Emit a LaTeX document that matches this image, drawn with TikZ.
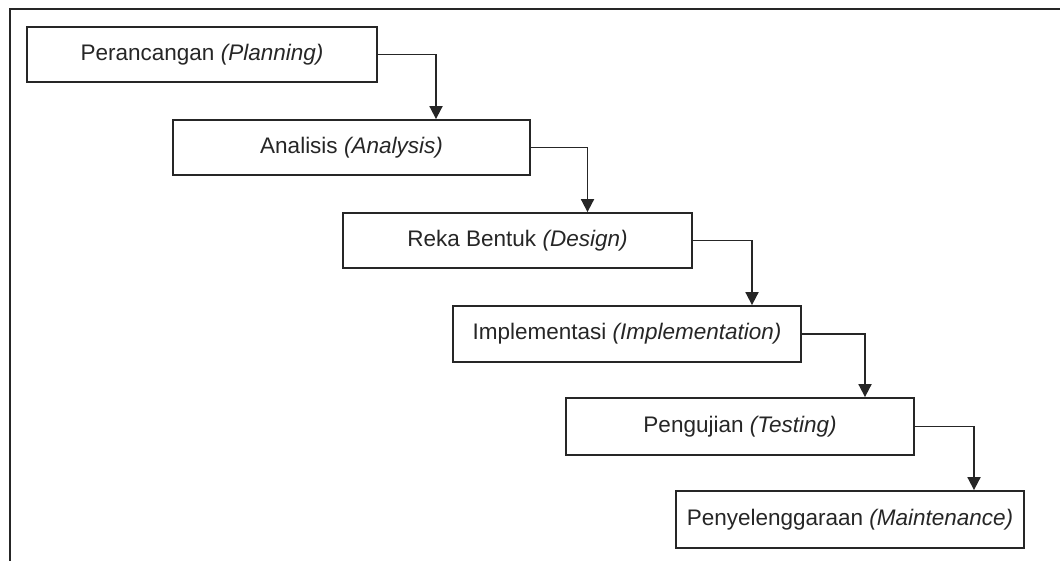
\documentclass[tikz,border=0pt]{standalone}
\usepackage{fontspec}
\setmainfont{Liberation Sans}
\usetikzlibrary{arrows.meta}
\begin{document}
\begin{tikzpicture}[x=1pt,y=-1pt,
  stage/.style={draw=black!85,line width=1.8pt,fill=white,inner sep=0pt,
    font=\fontsize{22.5}{25}\selectfont,text=black!85},
  flow/.style={draw=black!85,line width=1.8pt,-{Triangle[length=13pt,width=13pt]}},
  frame/.style={draw=black!85,line width=2pt}]
\useasboundingbox (0,0) rectangle (1060,561);
\coordinate (ftop) at (1060,9);
\coordinate (fcorner) at (10,9);
\coordinate (fbot) at (10,561);
\draw[frame] (ftop) -- (fcorner) -- (fbot);
\node[stage,minimum width=350pt,minimum height=55pt] (b1) at (202,54.5) {Perancangan \textit{(Planning)}};
\node[stage,minimum width=357pt,minimum height=55pt] (b2) at (351.5,147.5) {Analisis \textit{(Analysis)}};
\node[stage,minimum width=349pt,minimum height=55pt] (b3) at (517.5,240.5) {Reka Bentuk \textit{(Design)}};
\node[stage,minimum width=348pt,minimum height=56pt] (b4) at (627,334) {Implementasi \textit{(Implementation)}};
\node[stage,minimum width=348pt,minimum height=57pt] (b5) at (740,426.5) {Pengujian \textit{(Testing)}};
\node[stage,minimum width=348pt,minimum height=57pt] (b6) at (850,519.5) {Penyelenggaraan \textit{(Maintenance)}};
\draw[flow] (b1.east) -| ([xshift=84.5pt]b2.north);
\draw[flow] (b2.east) -| ([xshift=70pt]b3.north);
\draw[flow] (b3.east) -| ([xshift=125pt]b4.north);
\draw[flow] (b4.east) -| ([xshift=125pt]b5.north);
\draw[flow] (b5.east) -| ([xshift=124pt]b6.north);
\end{tikzpicture}
\end{document}
